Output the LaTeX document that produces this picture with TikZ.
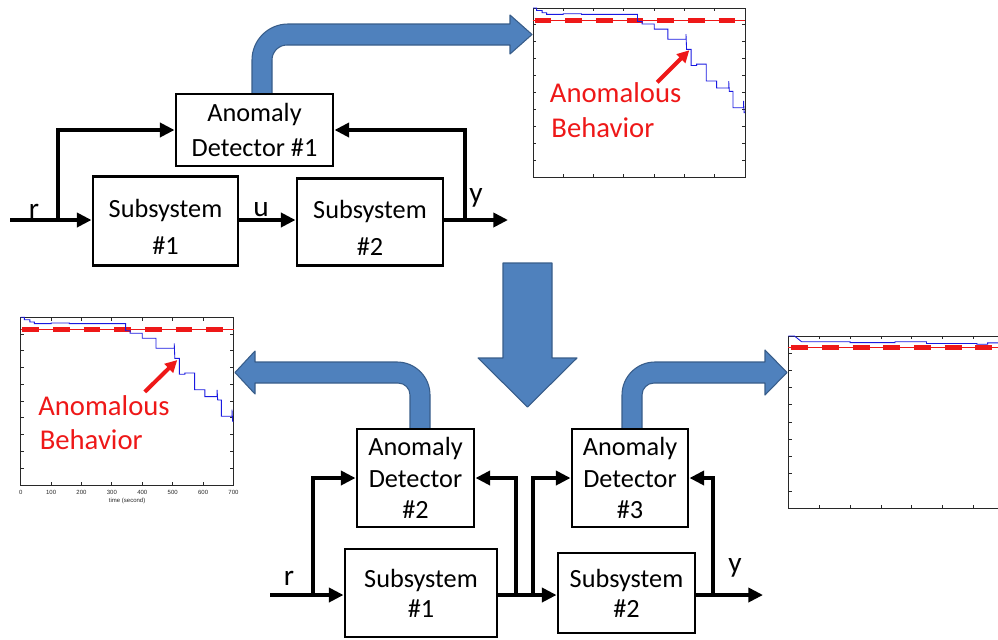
\documentclass[tikz,border=0pt]{standalone}
\usepackage{fontspec}
\setmainfont{Carlito}
\setsansfont{Liberation Sans}
\usetikzlibrary{arrows.meta}

\definecolor{shape}{HTML}{4F81BD}
\definecolor{shapeedge}{HTML}{385D8A}
\definecolor{trace}{RGB}{25,25,225}
\definecolor{limit}{RGB}{238,24,24}
\definecolor{axisgray}{RGB}{40,40,40}

% step response of the monitored quantity (time in units of 100 s)
\newcommand\failpath{(0,10) -| (0.12,9.85) -| (0.3,9.72) -| (0.45,9.62) -| (1.0,9.66)
  -| (1.6,9.62) -| (3.45,9.2) -| (3.6,9.05) -| (4.0,8.75) -| (4.45,8.15)
  -| (5.05,8.45) -- (5.07,7.55) -| (5.22,6.6) -| (5.4,6.68) -| (5.72,5.68)
  -| (6.06,5.27) -| (6.46,5.67) -- (6.48,5.07) -| (6.6,4.1) -| (6.95,4.5)
  -- (6.97,3.8) -- (7,3.8)}
\newcommand\steadypath{(0,10) -- (0.2,10) -- (0.43,9.67) -| (2.0,9.62) -| (3.45,9.67)
  -| (4.47,9.57) -| (6.1,9.52) -| (6.45,9.6) -- (7,9.6)}
% taller first line, pushes a two-line label downwards in its box
\newcommand\lowered{\rule{0pt}{23pt}}

\tikzset{
  blk/.style 2 args={draw, line width=2.2pt, minimum width=#1*0.75pt,
    minimum height=#2*0.75pt, inner sep=0pt, align=center, fill=white},
  conn/.style={line width=3pt},
  tip/.style={-{Triangle[length=11pt,width=10.5pt]}},
  flow/.style={fill=shape, draw=shapeedge, line width=0.8pt, line join=round},
  lbl/.style={font=\fontsize{22}{26}\selectfont, anchor=base, inner sep=0pt},
  note/.style={text=limit, font=\fontsize{21.5}{26}\selectfont, anchor=base west, inner sep=0pt},
  frame/.style={draw=axisgray, line width=0.7pt},
  curve/.style={draw=trace, line width=0.65pt},
  thr/.style={draw=limit, line width=0.8pt},
  thrdash/.style={draw=limit, line width=3.6pt, dash pattern=on 12.6pt off 10.4pt},
  pointer/.style={draw=limit, line width=3pt, -{Triangle[length=9pt,width=9pt]}},
  ticklbl/.style={font=\sffamily\fontsize{4.5}{5}\selectfont, text=axisgray, inner sep=0pt},
  boxdet/.style={font=\fontsize{19.7}{26.25}\selectfont},
  boxsub/.style={font=\fontsize{19.7}{27.75}\selectfont},
  boxsubb/.style={font=\fontsize{19.7}{22.5}\selectfont},
  boxdett/.style={font=\fontsize{19.7}{23.6}\selectfont},
}

% frame with inward ticks on all four sides
\newcommand\axesframe{%
  \draw[frame] (0,0) rectangle (7,10);
  \foreach \i in {1,...,6}
    \draw[frame] (\i,0) -- ++(0,2.5pt) (\i,10) -- ++(0,-2.5pt);
  \foreach \j in {1,...,9}
    \draw[frame] (0,\j) -- ++(2.5pt,0) (7,\j) -- ++(-2.5pt,0);
}

\begin{document}
\begin{tikzpicture}[x=0.75pt, y=0.75pt]
\useasboundingbox (0,0) rectangle (998,-639);

% ---------- upper system: one detector ----------
\path[flow] (252,-94) -- (252,-60) arc[start angle=180, end angle=90, radius=36]
  -- (510,-24) -- (510,-15) -- (532,-34.5) -- (510,-54) -- (510,-45) -- (287,-45)
  arc[start angle=90, end angle=180, radius=15] -- (272,-94) -- cycle;

\node[blk={157}{72}, boxdet] (det1) at (254.5,-130) {Anomaly\\Detector \#1};
\node[blk={145}{89}, boxsub] (sub1) at (165.5,-221) {\lowered Subsystem\\\#1};
\node[blk={146}{87}, boxsub] (sub2) at (370,-222) {\lowered Subsystem\\\#2};

\coordinate (rin) at (10,-220);
\coordinate (rbr) at (58,-220);
\coordinate (yout) at (508,-220);
\coordinate (ybr) at (465,-220);

\draw[conn, tip] (rin) -- (sub1.west |- rin);
\draw[conn, tip] (rbr) |- (det1.west);
\draw[conn, tip] (sub1.east |- rin) -- (sub2.west |- rin);
\draw[conn, tip] (sub2.east |- yout) -- (yout);
\draw[conn, tip] (ybr) |- (det1.east);

\node[lbl] (lr) at (34,-218) {r};
\node[lbl] (lu) at (261,-216) {u};
\node[lbl] (ly) at (476,-202) {y};

% ---------- residual plot of detector #1 ----------
\begin{scope}[shift={(533,-177)}, x=22.72pt, y=12.675pt]
  \axesframe
  \draw[thr] (0,9.28) -- (7,9.28);
  \draw[thrdash] (0.05,9.28) -- (7,9.28);
  \draw[curve] \failpath;
  \draw[pointer] (4.1,5.6) -- (5.16,7.5);
  \node[note] (ta1) at (0.55,4.38) {Anomalous};
  \node[note] (tb1) at (0.6,2.31) {Behavior};
\end{scope}

% ---------- refinement arrow ----------
\path[flow] (503,-263) -- (552,-263) -- (552,-358) -- (577,-358) -- (527.5,-407)
  -- (478,-358) -- (503,-358) -- cycle;

% ---------- lower system: two detectors ----------
\path[flow] (430,-429) -- (430,-395) arc[start angle=0, end angle=90, radius=33]
  -- (255,-362) -- (255,-351) -- (235,-372.5) -- (255,-394) -- (255,-383) -- (398,-383)
  arc[start angle=90, end angle=0, radius=12] -- (410,-429) -- cycle;
\path[flow] (622,-429) -- (622,-395) arc[start angle=180, end angle=90, radius=33]
  -- (765,-362) -- (765,-350) -- (787,-372.5) -- (765,-395) -- (765,-383) -- (654,-383)
  arc[start angle=90, end angle=180, radius=12] -- (642,-429) -- cycle;

\node[blk={117}{98}, boxdett] (det2) at (415.5,-478) {Anomaly\\Detector\\\#2};
\node[blk={116}{98}, boxdett] (det3) at (630,-478) {Anomaly\\Detector\\\#3};
\node[blk={152}{88}, boxsubb] (bsub1) at (421,-593) {Subsystem\\\#1};
\node[blk={137}{80}, boxsubb] (bsub2) at (626.5,-593) {Subsystem\\\#2};

\coordinate (rin2) at (270,-595);
\coordinate (rbr2) at (313,-595);
\coordinate (mbr1) at (516,-595);
\coordinate (mbr2) at (533,-595);
\coordinate (yout2) at (763,-595);
\coordinate (ybr2) at (713,-595);

\draw[conn, tip] (rin2) -- (bsub1.west |- rin2);
\draw[conn, tip] (rbr2) |- (det2.west);
\draw[conn, tip] (bsub1.east |- rin2) -- (bsub2.west |- rin2);
\draw[conn, tip] (mbr1) |- (det2.east);
\draw[conn, tip] (mbr2) |- (det3.west);
\draw[conn, tip] (bsub2.east |- yout2) -- (yout2);
\draw[conn, tip] (ybr2) |- (det3.east);

\node[lbl] (lr2) at (289,-585) {r};
\node[lbl] (ly2) at (735,-572) {y};

% ---------- residual plot of detector #2 ----------
\begin{scope}[shift={(20.7,-485)}, x=22.8pt, y=12.58pt]
  \axesframe
  \draw[thr] (0,9.25) -- (7,9.25);
  \draw[thrdash] (0.05,9.25) -- (7,9.25);
  \draw[curve] \failpath;
  \draw[pointer] (4.08,5.55) -- (5.15,7.45);
  \node[note] (ta2) at (0.57,4.17) {Anomalous};
  \node[note] (tb2) at (0.62,2.09) {Behavior};
  \foreach \i/\t in {0/0,1/100,2/200,3/300,4/400,5/500,6/600,7/700}
    \node[ticklbl] (tk\i) at (\i,-0.45) {\t};
  \node[ticklbl] (tlab) at (3.5,-0.95) {time (second)};
\end{scope}

% ---------- residual plot of detector #3 ----------
\begin{scope}
  \clip (770,-320) rectangle (998,-530);
  \begin{scope}[shift={(788.3,-508.3)}, x=23.18pt, y=12.92pt]
    \axesframe
    \draw[thr] (0,9.32) -- (7,9.32);
    \draw[thrdash] (0.1,9.32) -- (7,9.32);
    \draw[curve] \steadypath;
  \end{scope}
\end{scope}
\end{tikzpicture}
\end{document}
